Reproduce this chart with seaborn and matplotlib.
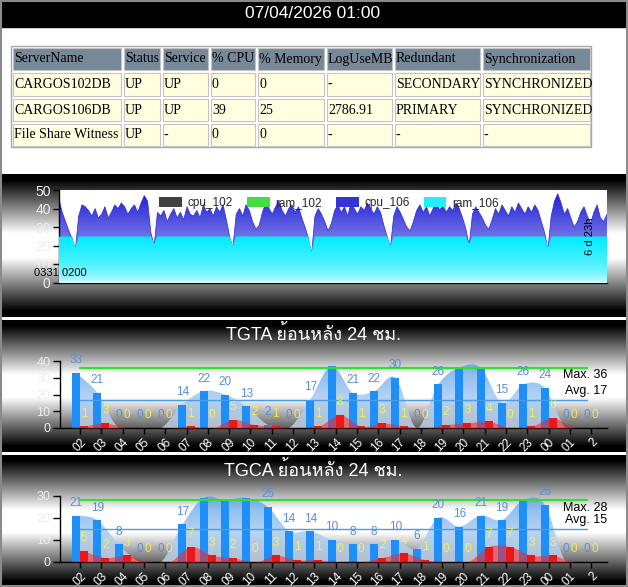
import numpy as np
import matplotlib
matplotlib.use('Agg')
import matplotlib.pyplot as plt
import seaborn as sns
from matplotlib.patches import Rectangle, Patch
from matplotlib.colors import to_rgb
from matplotlib import font_manager, ft2font

# ---- data ----
stamp = '07/04/2026 01:00'
table_cols = ['ServerName', 'Status', 'Service', '% CPU', '% Memory', 'LogUseMB', 'Redundant', 'Synchronization']
table_rows = [
    ['CARGOS102DB', 'UP', 'UP', '0', '0', '-', 'SECONDARY', 'SYNCHRONIZED'],
    ['CARGOS106DB', 'UP', 'UP', '39', '25', '2786.91', 'PRIMARY', 'SYNCHRONIZED'],
    ['File Share Witness', 'UP', '-', '0', '0', '-', '-', '-'],
]

# 7 days, hourly, starting 03/31 02:00
cpu_106 = [
    45, 38, 33, 28, 24, 18, 36, 42, 41, 39, 36, 40, 35, 37, 41, 35, 38, 42, 40, 43, 41, 37, 40, 42,
    38, 43, 47, 44, 27, 20, 38, 36, 39, 33, 37, 40, 35, 38, 34, 41, 37, 36, 39, 35, 42, 38, 40, 36,
    41, 38, 42, 34, 25, 19, 37, 40, 36, 42, 39, 33, 29, 31, 38, 43, 40, 37, 41, 44, 39, 36, 40, 42,
    38, 41, 35, 30, 24, 16, 36, 40, 37, 33, 28, 32, 39, 42, 38, 41, 36, 43, 40, 37, 41, 39, 43, 40,
    37, 41, 38, 31, 25, 19, 36, 41, 38, 34, 30, 28, 33, 39, 42, 38, 41, 36, 40, 44, 39, 42, 38, 41,
    39, 43, 40, 35, 29, 20, 37, 41, 38, 35, 31, 29, 34, 40, 37, 42, 39, 36, 41, 38, 43, 40, 37, 41,
    38, 42, 39, 33, 27, 18, 36, 44, 48, 43, 37, 40, 35, 30, 33, 38, 41, 36, 32, 38, 42, 35, 33, 37,
]
ram_106 = [
    25, 25, 25, 25, 25, 19, 25, 25, 25, 25, 25, 25, 25, 25, 25, 25, 25, 25, 25, 25, 25, 25, 25, 25,
    25, 25, 25, 25, 25, 21, 25, 25, 25, 25, 25, 25, 25, 25, 25, 25, 25, 25, 25, 25, 25, 25, 25, 25,
    25, 25, 25, 25, 25, 20, 25, 25, 25, 25, 25, 25, 25, 25, 25, 25, 25, 25, 25, 25, 25, 25, 25, 25,
    25, 25, 25, 25, 25, 17, 25, 25, 25, 25, 25, 25, 25, 25, 25, 25, 25, 25, 25, 25, 25, 25, 25, 25,
    25, 25, 25, 25, 25, 20, 25, 25, 25, 25, 25, 25, 25, 25, 25, 25, 25, 25, 25, 25, 25, 25, 25, 25,
    25, 25, 25, 25, 25, 21, 25, 25, 25, 25, 25, 25, 25, 25, 25, 25, 25, 25, 25, 25, 25, 25, 25, 25,
    25, 25, 25, 25, 25, 19, 25, 25, 25, 25, 25, 25, 25, 25, 25, 25, 25, 25, 25, 25, 25, 25, 25, 25,
]
legend_names = ['cpu_102', 'ram_102', 'cpu_106', 'ram_106']
legend_colors = ['#404040', '#44dd44', '#3434d6', '#22eeff']

hours = ['02', '03', '04', '05', '06', '07', '08', '09', '10', '11', '12', '13', '14',
         '15', '16', '17', '18', '19', '20', '21', '22', '23', '00', '01', '2']
tgta_blue = [33, 21, 0, 0, 0, 14, 22, 20, 13, 2, 0, 17, 37, 21, 22, 30, 0, 26, 36, 36, 15, 26, 24, 0, 0]
tgta_red = [1, 3, 0, 0, 0, 1, 0, 5, 2, 1, 0, 1, 8, 1, 3, 1, 0, 2, 3, 4, 0, 1, 6, 0, 0]
tgta_max, tgta_avg = 36, 17
tgca_blue = [21, 19, 8, 0, 0, 17, 29, 28, 29, 25, 14, 14, 10, 8, 8, 10, 6, 20, 16, 21, 19, 28, 26, 0, 0]
tgca_red = [5, 2, 3, 0, 0, 7, 3, 2, 0, 3, 1, 1, 0, 0, 2, 4, 1, 0, 0, 7, 7, 3, 3, 0, 0]
tgca_max, tgca_avg = 28, 15


def find_thai_font():
    for f in font_manager.fontManager.ttflist:
        try:
            if 0x0E22 in ft2font.FT2Font(f.fname).get_charmap():
                return f.name
        except Exception:
            pass
    return None


sns.set_theme(style='white')
fams = ['Liberation Sans']
thai = find_thai_font()
if thai:
    fams.append(thai)
fams.append('DejaVu Sans')
plt.rcParams['font.family'] = fams

W, H = 628, 587
fig = plt.figure(figsize=(W / 100, H / 100), dpi=100)


def px_axes(x0, y0, x1, y1):
    return fig.add_axes([x0 / W, 1 - y1 / H, (x1 - x0) / W, (y1 - y0) / H])


def grad_fill(ax, x, y, top, bottom, ytop, alpha=1.0, zorder=1, power=1.0):
    x = np.asarray(x, float)
    y = np.asarray(y, float)
    poly = ax.fill(np.r_[x[0], x, x[-1]], np.r_[0, y, 0], facecolor='none', edgecolor='none')[0]
    mix = np.linspace(1, 0, 256) ** power
    c0, c1 = np.array(to_rgb(bottom)), np.array(to_rgb(top))
    img = (c0 + (c1 - c0) * mix[:, None])[:, None, :]
    im = ax.imshow(img, extent=[x.min(), x.max(), 0, ytop], origin='upper', aspect='auto',
                   alpha=alpha, zorder=zorder, interpolation='bilinear')
    im.set_clip_path(poly)


def spline(x, y, n=16):
    p = np.column_stack([x, y]).astype(float)
    p = np.vstack([p[0], p, p[-1]])
    t = np.linspace(0, 1, n, endpoint=False)[:, None]
    segs = []
    for i in range(1, len(p) - 2):
        p0, p1, p2, p3 = p[i - 1], p[i], p[i + 1], p[i + 2]
        segs.append(0.5 * (2 * p1 + (p2 - p0) * t + (2 * p0 - 5 * p1 + 4 * p2 - p3) * t ** 2
                           + (3 * p1 - p0 - 3 * p2 + p3) * t ** 3))
    segs.append(p[-2][None])
    s = np.vstack(segs)
    return s[:, 0], np.clip(s[:, 1], 0, None)


# ---- background, title bar, table ----
bg = fig.add_axes([0, 0, 1, 1], zorder=-1)
bg.axis('off')
bg.add_patch(Rectangle((0, 0), W, 27, color='black', zorder=2))
bg.text(313, 14, stamp, color='white', fontsize=12.5, ha='center', va='center', zorder=3)


def panel_bg(y0, y1):
    t = np.linspace(0, 1, 200)
    g = np.clip((1 - np.abs(2 * t - 1) - 0.08) / 0.75, 0, 1)
    img = np.repeat(g[:, None], 2, axis=1)
    bg.imshow(img, cmap='gray', vmin=0, vmax=1, extent=[0, W, y1, y0], aspect='auto',
              interpolation='bilinear', zorder=1)


panel_bg(174, 317)
panel_bg(320, 452)
panel_bg(455, 587)

col_x = [11, 122, 161, 209, 256, 325, 393, 481, 591]
row_y = [46, 71, 97, 122, 147]
bg.add_patch(Rectangle((col_x[0], row_y[0]), col_x[-1] - col_x[0], row_y[-1] - row_y[0],
                       facecolor='white', edgecolor='#a8a8a8', lw=1, zorder=2))
for r, cells in enumerate([table_cols] + table_rows):
    for c, txt in enumerate(cells):
        x0, x1 = col_x[c], col_x[c + 1]
        y0, y1 = row_y[r], row_y[r + 1]
        bg.add_patch(Rectangle((x0 + 1.5, y0 + 1.5), x1 - x0 - 3, y1 - y0 - 3,
                               facecolor='#778899' if r == 0 else '#ffffe0',
                               edgecolor='#c4c4c4', lw=0.8, zorder=3))
        bg.text(x0 + 3, (y0 + y1) / 2 + 0.5, txt, family='Liberation Serif', fontsize=10,
                ha='left', va='center', color='black', zorder=4)

bg.add_patch(Rectangle((0.5, 0.5), W - 1.5, H - 1.5, facecolor='none', edgecolor='#8a8a8a', lw=1.5, zorder=5))
bg.set_xlim(0, W)
bg.set_ylim(H, 0)

# ---- panel 1: cpu / ram history ----
ax1 = px_axes(59, 190, 607, 283)
ax1.set_facecolor('white')
xs = np.arange(len(cpu_106))
grad_fill(ax1, xs, cpu_106, '#1a1ad2', '#c8c8fa', 50, zorder=1)
sns.lineplot(x=xs, y=cpu_106, color='#2a2ad4', lw=0.5, ax=ax1, zorder=2)
grad_fill(ax1, xs, ram_106, '#00ecff', '#f6feff', max(ram_106), zorder=3, power=0.45)
ax1.set_xlim(0, len(cpu_106) - 1)
ax1.set_ylim(0, 50)
ax1.set_xticks([])
ax1.set_yticks([0, 10, 20, 30, 40, 50])
ax1.tick_params(axis='y', left=True, length=4, width=1, color='black', labelcolor='#eeeeee', labelsize=10, pad=2)
ax1.set_xlabel('')
ax1.set_ylabel('')
for s in ['top', 'right']:
    ax1.spines[s].set_visible(False)
for s in ['left', 'bottom']:
    ax1.spines[s].set_color('black')
    ax1.spines[s].set_linewidth(1)
handles = [Patch(facecolor=c, edgecolor='none') for c in legend_colors]
ax1.legend(handles, legend_names, loc='center', bbox_to_anchor=(0.493, 0.86), ncol=4, frameon=False,
           fontsize=8.5, handlelength=1.9, handleheight=0.85, handletextpad=0.5, columnspacing=1.2)
fig.text(34 / W, 1 - 273 / H, '0331 0200', fontsize=8, ha='left', va='center', color='black')
fig.text(590 / W, 1 - 236 / H, '6 d 23h', fontsize=8, rotation=90, ha='center', va='center', color='black')


# ---- panels 2, 3: hourly bars ----
def bar_panel(y_top, y_bot, title_y, title, blue, red, ymax, vmax, vavg):
    ax = px_axes(60, y_top, 607, y_bot)
    ax.set_facecolor('none')
    n = len(hours)
    c = np.arange(n)
    xb, xr = c - 0.19, c + 0.19
    sx, sy = spline(xb, blue)
    grad_fill(ax, sx, sy, '#4a98ea', '#d4e4f6', ymax, alpha=0.72, zorder=1)
    sns.barplot(x=xb, y=blue, native_scale=True, width=0.375, color='#1e8ff8', saturation=1,
                errorbar=None, linewidth=0, ax=ax, zorder=2)
    rx, ry = spline(xr, red)
    ax.fill_between(rx, 0, ry, color='#ff2020', alpha=0.55, lw=0, zorder=3)
    sns.barplot(x=xr, y=red, native_scale=True, width=0.375, color='#f01414', saturation=1,
                errorbar=None, linewidth=0, ax=ax, zorder=4)
    ax.plot([0, n - 1.2], [vmax, vmax], color='#33dd33', lw=1.6, zorder=5)
    ax.plot([0, n - 1.2], [vavg, vavg], color='#4b9be8', lw=1, zorder=5)
    for i in range(n):
        if blue[i] < vmax:
            ax.annotate(f'{blue[i]}', (xb[i], blue[i]), xytext=(0, 9), textcoords='offset points',
                        ha='center', va='center', color='#5a8ed8', fontsize=8.5, zorder=6,
                        annotation_clip=False)
        ax.annotate(f'{red[i]}', (xr[i], red[i]), xytext=(0, 9), textcoords='offset points',
                    ha='center', va='center', color='#ffff33', alpha=0.75, fontsize=8.5, zorder=6,
                    annotation_clip=False)
    ax.annotate(f'Max. {vmax}', xy=(1.0, vmax), xycoords=('axes fraction', 'data'), xytext=(0, -1),
                textcoords='offset points', ha='right', va='top', fontsize=9, color='black', zorder=7)
    ax.annotate(f'Avg. {vavg}', xy=(1.0, vavg), xycoords=('axes fraction', 'data'), xytext=(0, 2),
                textcoords='offset points', ha='right', va='bottom', fontsize=9, color='black', zorder=7)
    ax.set_xlim(-0.94, n - 0.26)
    ax.set_ylim(0, ymax)
    ax.set_yticks(np.arange(0, ymax + 1, 10))
    ax.set_xticks(c)
    ax.set_xticklabels(hours, rotation=45, ha='right', va='top', rotation_mode='anchor')
    ax.tick_params(axis='x', bottom=True, length=4, width=1, color='black', labelcolor='white',
                   labelsize=8.5, pad=2)
    ax.tick_params(axis='y', left=True, length=5, width=1, color='black', labelcolor='#eeeeee',
                   labelsize=9, pad=2)
    ax.set_xlabel('')
    ax.set_ylabel('')
    for s in ['top', 'right']:
        ax.spines[s].set_visible(False)
    for s in ['left', 'bottom']:
        ax.spines[s].set_color('black')
        ax.spines[s].set_linewidth(1)
    bg.text(313, title_y, title, color='white', fontsize=13, ha='center', va='center', zorder=4)
    return ax


bar_panel(361, 428, 334, 'TGTA ย้อนหลัง 24 ชม.', tgta_blue, tgta_red, 40, tgta_max, tgta_avg)
bar_panel(495.7, 562, 470, 'TGCA ย้อนหลัง 24 ชม.', tgca_blue, tgca_red, 30, tgca_max, tgca_avg)

fig.savefig('out.png', dpi=100)
